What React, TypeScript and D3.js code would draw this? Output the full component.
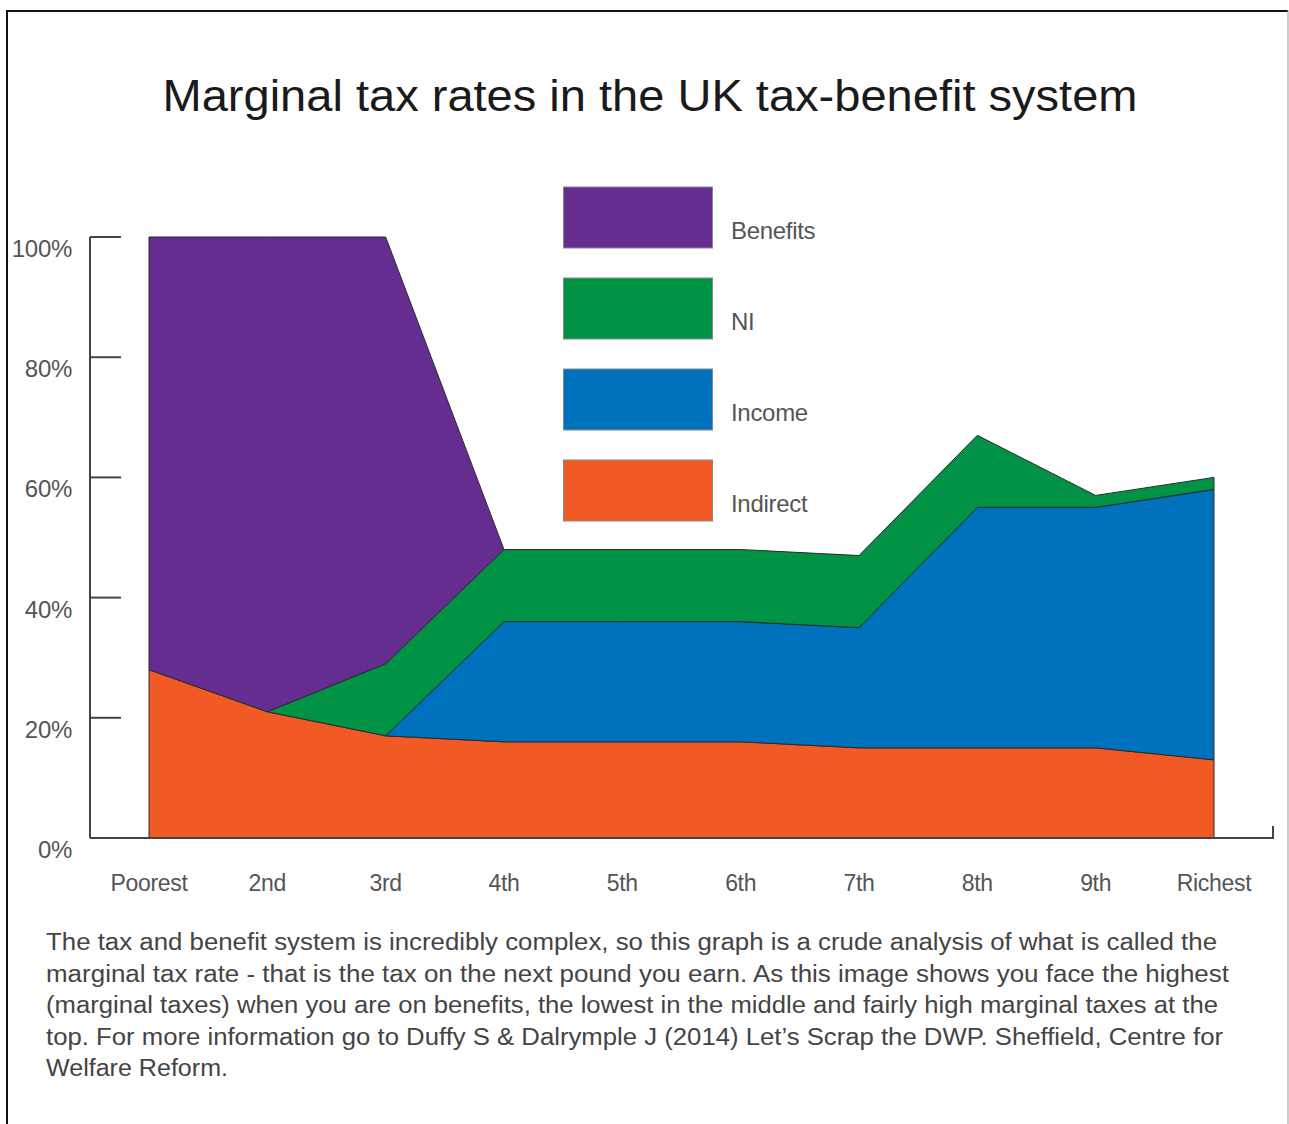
import React from "react";
import * as d3 from "d3";

const categories = ["Poorest", "2nd", "3rd", "4th", "5th", "6th", "7th", "8th", "9th", "Richest"];
const seriesNames = ["Indirect", "Income", "NI", "Benefits"];
const indirect = [28, 21, 17, 16, 16, 16, 15, 15, 15, 13];
const income = [0, 0, 0, 20, 20, 20, 20, 40, 40, 45];
const ni = [0, 0, 12, 12, 12, 12, 12, 12, 2, 2];
const benefits = [72, 79, 71, 0, 0, 0, 0, 0, 0, 0];
const yTicks = [0, 20, 40, 60, 80, 100];
const legendOrder = ["Benefits", "NI", "Income", "Indirect"];
const colors: Record<string, string> = {
  Indirect: "#f15a24",
  Income: "#0071bc",
  NI: "#009245",
  Benefits: "#662d91",
};
const title = "Marginal tax rates in the UK tax-benefit system";
const captionLines = [
  "The tax and benefit system is incredibly complex, so this graph is a crude analysis of what is called the",
  "marginal tax rate - that is the tax on the next pound you earn. As this image shows you face the highest",
  "(marginal taxes) when you are on benefits, the lowest in the middle and fairly high marginal taxes at the",
  "top. For more information go to Duffy S & Dalrymple J (2014) Let\u2019s Scrap the DWP. Sheffield, Centre for",
  "Welfare Reform.",
];
const captionWidths = [1171, 1183, 1172, 1177, 182];

const FONT = "'Liberation Sans', Arial, Helvetica, sans-serif";

export default function App() {
  const W = 1289;
  const H = 1124;
  const x = d3.scalePoint<string>().domain(categories).range([149, 1214]);
  const y = d3.scaleLinear().domain([0, 100]).range([838, 237]);

  const rows = categories.map((c, i) => ({
    cat: c,
    Indirect: indirect[i],
    Income: income[i],
    NI: ni[i],
    Benefits: benefits[i],
  }));
  const stack = d3.stack<any>().keys(seriesNames);
  const layers = stack(rows);
  const area = d3
    .area<any>()
    .x((d) => x(d.data.cat) as number)
    .y0((d) => y(d[0]))
    .y1((d) => y(d[1]));

  const defined = (layer: any) => (d: any, i: number) => {
    const prev = layer[i - 1];
    const next = layer[i + 1];
    const thick = (p: any) => p && p[1] - p[0] > 0;
    return thick(d) || thick(prev) || thick(next);
  };

  return (
    <svg width={W} height={H} style={{ display: "block", position: "absolute", left: 0, top: 0 }}>
      <rect x={0} y={0} width={W} height={H} fill="#fff" />
      <line x1={7} y1={11} x2={1288} y2={11} stroke="#111" strokeWidth={2} />
      <line x1={7} y1={10} x2={7} y2={H} stroke="#111" strokeWidth={2} />
      <line x1={1288} y1={10} x2={1288} y2={H} stroke="#999" strokeWidth={1} />

      <text
        x={650}
        y={111}
        textAnchor="middle"
        fontFamily={FONT}
        fontSize={45}
        fill="#1a1a1a"
        textLength={975}
        lengthAdjust="spacingAndGlyphs"
      >
        {title}
      </text>

      {layers.map((layer) => (
        <path
          key={layer.key}
          d={area.defined(defined(layer))(layer as any) || ""}
          fill={colors[layer.key]}
          stroke="#2a2a2a"
          strokeWidth={1}
          strokeLinejoin="miter"
        />
      ))}

      <line x1={90} y1={y(100)} x2={90} y2={y(0)} stroke="#444" strokeWidth={2} />
      {yTicks.map((t) => (
        <g key={t}>
          <line x1={90} x2={121} y1={y(t)} y2={y(t)} stroke="#444" strokeWidth={2} />
          <text
            x={72}
            y={y(t) + 20}
            textAnchor="end"
            fontFamily={FONT}
            fontSize={24}
            fill="#555"
            letterSpacing={-0.3}
          >
            {t}%
          </text>
        </g>
      ))}
      <line x1={90} y1={y(0)} x2={1274} y2={y(0)} stroke="#444" strokeWidth={2} />
      <line x1={1273} y1={y(0)} x2={1273} y2={y(0) - 12} stroke="#444" strokeWidth={2} />
      {categories.map((c) => (
        <text
          key={c}
          x={x(c)}
          y={891}
          textAnchor="middle"
          fontFamily={FONT}
          fontSize={23}
          fill="#555"
          letterSpacing={-0.3}
        >
          {c}
        </text>
      ))}

      {legendOrder.map((k, i) => {
        const top = 187 + i * 91;
        return (
          <g key={k}>
            <rect x={563.5} y={top} width={149} height={61} fill={colors[k]} stroke="#888" strokeWidth={1} />
            <text x={731} y={top + 52} fontFamily={FONT} fontSize={24} fill="#555" letterSpacing={-0.3}>
              {k}
            </text>
          </g>
        );
      })}

      {captionLines.map((l, i) => (
        <text
          key={i}
          x={46}
          y={950 + i * 31.6}
          fontFamily={FONT}
          fontSize={23}
          fill="#444"
          textLength={captionWidths[i]}
          lengthAdjust="spacingAndGlyphs"
        >
          {l}
        </text>
      ))}
    </svg>
  );
}
